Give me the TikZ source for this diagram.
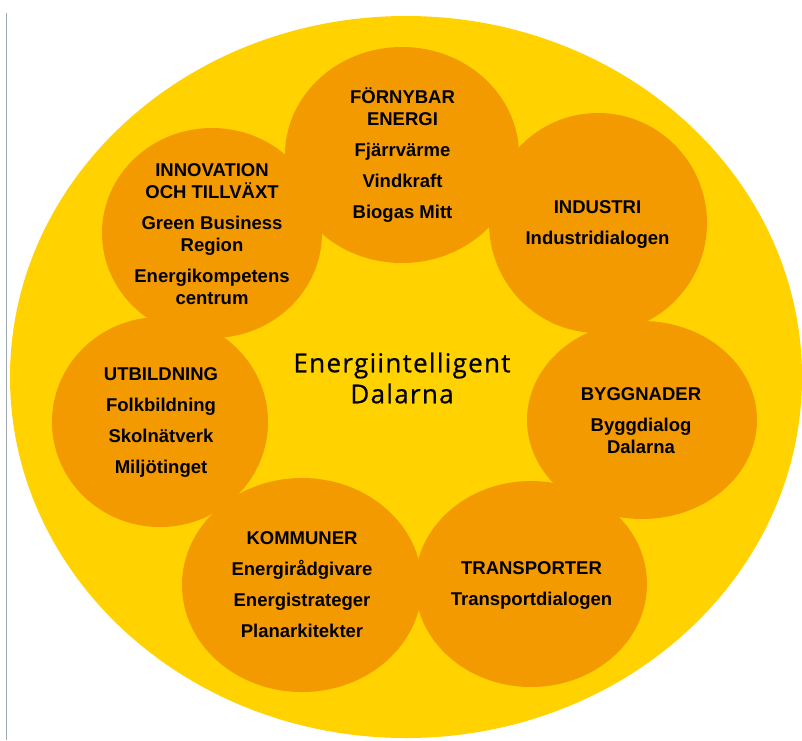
\documentclass[tikz,border=0pt]{standalone}
\usepackage{fontspec}
\setmainfont{Liberation Sans}
\newfontfamily\centerfont[LetterSpace=5,FakeBold=0.6]{Open Sans}
\definecolor{bgyellow}{RGB}{255,210,0}
\definecolor{circorange}{RGB}{242,154,0}
\definecolor{edgegray}{RGB}{160,168,176}
\tikzset{
  blob/.style={fill=circorange, draw=none},
  lbl/.style={align=center, text=black, inner sep=0pt,
    font=\fontsize{18.5}{22}\selectfont\bfseries},
}
\begin{document}
\begin{tikzpicture}[x=1pt,y=-1pt]
\useasboundingbox (0,0) rectangle (802,740);
\clip (0,0) rectangle (802,740);
\fill[white] (0,0) rectangle (802,740);
\draw[edgegray, line width=1.2pt] (6.5,13) -- (6.5,740);
\fill[bgyellow] (406,377) ellipse [x radius=396, y radius=361];
% circles
\fill[blob] (212,233) ellipse [x radius=110, y radius=105];
\fill[blob] (402,155) ellipse [x radius=117, y radius=108];
\fill[blob] (598,223) ellipse [x radius=109, y radius=110];
\fill[blob] (160,422) ellipse [x radius=108, y radius=105];
\fill[blob] (642,420) ellipse [x radius=115, y radius=99];
\fill[blob] (302,585) ellipse [x radius=120, y radius=107];
\fill[blob] (531,584) ellipse [x radius=116, y radius=103];
% labels
\node[lbl] (fornybar) at (402.5,155) {FÖRNYBAR\\ENERGI\\[9pt]Fjärrvärme\\[9pt]Vindkraft\\[9pt]Biogas Mitt};
\node[lbl] (innovation) at (212,234) {INNOVATION\\OCH TILLVÄXT\\[9pt]Green Business\\Region\\[9pt]Energikompetens\\centrum};
\node[lbl] (industri) at (597.5,224) {INDUSTRI\\[9pt]Industridialogen};
\node[lbl] (utbildning) at (161,422) {UTBILDNING\\[9pt]Folkbildning\\[9pt]Skolnätverk\\[9pt]Miljötinget};
\node[lbl] (byggnader) at (641,421) {BYGGNADER\\[9pt]Byggdialog\\Dalarna};
\node[lbl] (kommuner) at (302,585) {KOMMUNER\\[9pt]Energirådgivare\\[9pt]Energistrateger\\[9pt]Planarkitekter};
\node[lbl] (transporter) at (531.5,585) {TRANSPORTER\\[9pt]Transportdialogen};
\node[align=center, inner sep=0pt, font=\centerfont\fontsize{26}{31}\selectfont] (center) at (402,378) {Energiintelligent\\Dalarna};
\end{tikzpicture}
\end{document}
